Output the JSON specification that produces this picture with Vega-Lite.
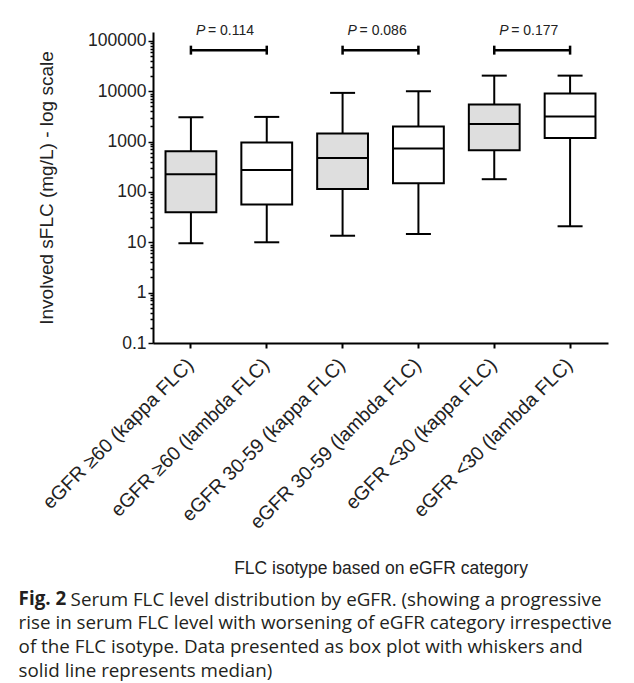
{
  "$schema": "https://vega.github.io/schema/vega-lite/v6.json",
  "padding": {"left": 18, "top": 24, "right": 0, "bottom": 8},
  "background": "white",
  "config": {"view": {"stroke": null}, "font": "Liberation Sans"},
  "datasets": {
    "boxes": [
      {"cat": "eGFR ≥60 (kappa FLC)", "type": "kappa", "min": 9.6, "q1": 39.5, "med": 225, "q3": 644, "max": 3050},
      {"cat": "eGFR ≥60 (lambda FLC)", "type": "lambda", "min": 10, "q1": 56, "med": 274, "q3": 955, "max": 3090},
      {"cat": "eGFR 30-59 (kappa FLC)", "type": "kappa", "min": 13.5, "q1": 115, "med": 474, "q3": 1442, "max": 9270},
      {"cat": "eGFR 30-59 (lambda FLC)", "type": "lambda", "min": 14.6, "q1": 149, "med": 726, "q3": 1986, "max": 10000},
      {"cat": "eGFR <30 (kappa FLC)", "type": "kappa", "min": 179, "q1": 673, "med": 2230, "q3": 5430, "max": 20400},
      {"cat": "eGFR <30 (lambda FLC)", "type": "lambda", "min": 20.8, "q1": 1183, "med": 3150, "q3": 8990, "max": 20400}
    ],
    "brackets": [
      {"from": "eGFR ≥60 (kappa FLC)", "to": "eGFR ≥60 (lambda FLC)", "yb": 65400, "ptext": "= 0.114"},
      {"from": "eGFR 30-59 (kappa FLC)", "to": "eGFR 30-59 (lambda FLC)", "yb": 65400, "ptext": "= 0.086"},
      {"from": "eGFR <30 (kappa FLC)", "to": "eGFR <30 (lambda FLC)", "yb": 65400, "ptext": "= 0.177"}
    ],
    "caps": [
      {"cat": "eGFR ≥60 (kappa FLC)", "lo": 53300, "hi": 80300},
      {"cat": "eGFR ≥60 (lambda FLC)", "lo": 53300, "hi": 80300},
      {"cat": "eGFR 30-59 (kappa FLC)", "lo": 53300, "hi": 80300},
      {"cat": "eGFR 30-59 (lambda FLC)", "lo": 53300, "hi": 80300},
      {"cat": "eGFR <30 (kappa FLC)", "lo": 53300, "hi": 80300},
      {"cat": "eGFR <30 (lambda FLC)", "lo": 53300, "hi": 80300}
    ]
  },
  "title": {
    "text": "Fig. 2",
    "subtitle": [
      "rise in serum FLC level with worsening of eGFR category irrespective",
      "of the FLC isotype. Data presented as box plot with whiskers and",
      "solid line represents median)"
    ],
    "orient": "bottom",
    "anchor": "start",
    "frame": "bounds",
    "dx": -19,
    "offset": -19,
    "font": "Open Sans",
    "fontSize": 18.8,
    "fontWeight": "bold",
    "color": "#231f20",
    "subtitleFont": "Open Sans",
    "subtitleFontSize": 18.8,
    "subtitleColor": "#231f20",
    "subtitleLineHeight": 24,
    "subtitlePadding": 5
  },
  "vconcat": [
    {
      "width": 455,
      "height": 311,
      "title": {
        "text": "Serum FLC level distribution by eGFR. (showing a progressive",
        "orient": "bottom",
        "anchor": "start",
        "frame": "bounds",
        "dx": 33,
        "offset": 14,
        "font": "Open Sans",
        "fontSize": 18.8,
        "fontWeight": "normal",
        "color": "#231f20"
      },
      "layer": [
        {
          "data": {"name": "boxes"},
          "mark": {"type": "rule", "color": "black", "strokeWidth": 2},
          "encoding": {
            "x": {
              "field": "cat", "type": "nominal", "sort": null,
              "scale": {"paddingInner": 0, "paddingOuter": 0},
              "axis": {
                "title": "FLC isotype based on eGFR category",
                "titleFontSize": 17.5, "titleFontWeight": "normal", "titleColor": "#222", "titlePadding": 27,
                "labelAngle": -45, "labelFontSize": 19.5, "labelColor": "#222", "labelPadding": 7, "labelOffset": -7, "labelLimit": 400,
                "domainColor": "black", "domainWidth": 2,
                "tickColor": "black", "tickWidth": 2, "tickSize": 5
              }
            },
            "y": {
              "field": "min", "type": "quantitative",
              "scale": {"type": "log", "domain": [0.1, 150000], "nice": false},
              "axis": {
                "values": [0.1,0.2,0.3,0.4,0.5,0.6,0.7,0.8,0.9,1,2,3,4,5,6,7,8,9,10,20,30,40,50,60,70,80,90,100,200,300,400,500,600,700,800,900,1000,2000,3000,4000,5000,6000,7000,8000,9000,10000,20000,30000,40000,50000,60000,70000,80000,90000,100000],
                "labelExpr": "indexof([0.1,1,10,100,1000,10000,100000], datum.value) >= 0 ? format(datum.value, '~g') : ''",
                "labelOverlap": false,
                "tickSize": {"condition": {"test": "indexof([0.1,1,10,100,1000,10000,100000], datum.value) >= 0", "value": 5}, "value": 3},
                "tickWidth": 1.5, "tickColor": "black",
                "domainColor": "black", "domainWidth": 2,
                "labelFontSize": 17.5, "labelColor": "#222", "labelPadding": 2,
                "grid": false,
                "title": "Involved sFLC (mg/L) - log scale",
                "titleFontSize": 19, "titleFontWeight": "normal", "titleColor": "#222", "titlePadding": 31
              }
            },
            "y2": {"field": "max"}
          }
        },
        {
          "data": {"name": "boxes"},
          "mark": {"type": "bar", "stroke": "black", "strokeWidth": 2, "width": {"band": 0.67}},
          "encoding": {
            "x": {"field": "cat", "type": "nominal", "sort": null},
            "y": {"field": "q1", "type": "quantitative"},
            "y2": {"field": "q3"},
            "fill": {"field": "type", "type": "nominal", "scale": {"domain": ["kappa", "lambda"], "range": ["#dedede", "#ffffff"]}, "legend": null}
          }
        },
        {
          "data": {"name": "boxes"},
          "mark": {"type": "tick", "color": "black", "thickness": 2, "size": 51, "opacity": 1},
          "encoding": {
            "x": {"field": "cat", "type": "nominal", "sort": null},
            "y": {"field": "med", "type": "quantitative"}
          }
        },
        {
          "data": {"name": "boxes"},
          "mark": {"type": "tick", "color": "black", "thickness": 2, "size": 25, "opacity": 1},
          "encoding": {
            "x": {"field": "cat", "type": "nominal", "sort": null},
            "y": {"field": "min", "type": "quantitative"}
          }
        },
        {
          "data": {"name": "boxes"},
          "mark": {"type": "tick", "color": "black", "thickness": 2, "size": 25, "opacity": 1},
          "encoding": {
            "x": {"field": "cat", "type": "nominal", "sort": null},
            "y": {"field": "max", "type": "quantitative"}
          }
        },
        {
          "data": {"name": "brackets"},
          "mark": {"type": "rule", "color": "black", "strokeWidth": 2.5},
          "encoding": {
            "x": {"field": "from", "type": "nominal", "sort": null},
            "x2": {"field": "to"},
            "y": {"field": "yb", "type": "quantitative"}
          }
        },
        {
          "data": {"name": "caps"},
          "mark": {"type": "rule", "color": "black", "strokeWidth": 2.5},
          "encoding": {
            "x": {"field": "cat", "type": "nominal", "sort": null},
            "y": {"field": "lo", "type": "quantitative"},
            "y2": {"field": "hi"}
          }
        },
        {
          "data": {"name": "brackets"},
          "mark": {"type": "text", "text": "P", "fontStyle": "italic", "fontSize": 14, "align": "left", "baseline": "middle", "dx": 5, "dy": -19, "color": "#222"},
          "encoding": {
            "x": {"field": "from", "type": "nominal", "sort": null},
            "y": {"field": "yb", "type": "quantitative"}
          }
        },
        {
          "data": {"name": "brackets"},
          "mark": {"type": "text", "fontSize": 14, "align": "left", "baseline": "middle", "dx": 17, "dy": -19, "color": "#222"},
          "encoding": {
            "x": {"field": "from", "type": "nominal", "sort": null},
            "y": {"field": "yb", "type": "quantitative"},
            "text": {"field": "ptext"}
          }
        }
      ]
    }
  ]
}
